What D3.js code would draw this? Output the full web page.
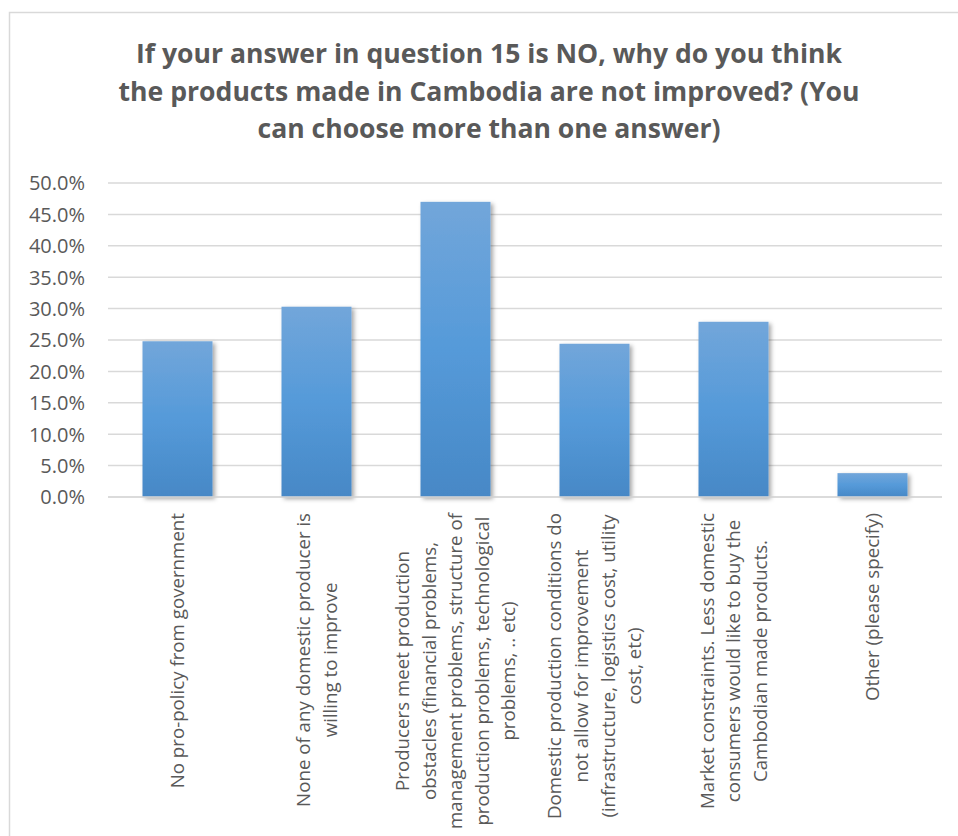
<!DOCTYPE html>
<html>
<head>
<meta charset="utf-8">
<script src="https://cdn.jsdelivr.net/npm/d3@7"></script>
<style>
  html, body { margin: 0; padding: 0; background: #fff; }
  svg { display: block; }
</style>
</head>
<body>
<svg id="chart" width="958" height="836"></svg>
<script>
// ---- data ----
const titleLines = [
  "If your answer in question 15 is NO, why do you think",
  "the products made in Cambodia are not improved? (You",
  "can choose more than one answer)"
];
const categories = [
  "No pro-policy from government",
  "None of any domestic producer is willing to improve",
  "Producers meet production obstacles (financial problems, management problems, structure of production problems, technological problems, .. etc)",
  "Domestic production conditions do not allow for improvement (infrastructure, logistics cost, utility cost, etc)",
  "Market constraints. Less domestic consumers would like to buy the Cambodian made products.",
  "Other (please specify)"
];
const categoryLines = [
  ["No pro-policy from government"],
  ["None of any domestic producer is", "willing to improve"],
  ["Producers meet production", "obstacles (financial problems,", "management problems, structure of", "production problems, technological", "problems, .. etc)"],
  ["Domestic production conditions do", "not allow for improvement", "(infrastructure, logistics cost, utility", "cost, etc)"],
  ["Market constraints. Less domestic", "consumers would like to buy the", "Cambodian made products."],
  ["Other (please specify)"]
];
const values = [0.248, 0.303, 0.470, 0.244, 0.279, 0.038];
const yTicks = [0, 0.05, 0.10, 0.15, 0.20, 0.25, 0.30, 0.35, 0.40, 0.45, 0.50];

// ---- layout ----
const svg = d3.select("#chart");
const plot = { left: 108, right: 942, top: 183, bottom: 497 };
const textColor = "#595959";
const gridColor = "#d9d9d9";

const defs = svg.append("defs");
const grad = defs.append("linearGradient")
  .attr("id", "barGrad").attr("x1", 0).attr("y1", 0).attr("x2", 0).attr("y2", 1);
grad.append("stop").attr("offset", "0%").attr("stop-color", "#72a6da");
grad.append("stop").attr("offset", "50%").attr("stop-color", "#559ad9");
grad.append("stop").attr("offset", "100%").attr("stop-color", "#4788c6");
const filt = defs.append("filter").attr("id", "shadow")
  .attr("x", "-20%").attr("y", "-20%").attr("width", "150%").attr("height", "150%");
filt.append("feDropShadow").attr("dx", 2.5).attr("dy", 2).attr("stdDeviation", 2)
  .attr("flood-color", "#000").attr("flood-opacity", 0.35);

// outer frame
svg.append("rect").attr("x", 9.5).attr("y", 12.5).attr("width", 960).attr("height", 840)
  .attr("fill", "#fff").attr("stroke", gridColor).attr("stroke-width", 1.5);

// title
const titleY = [63, 100.5, 138];
const titleWidths = [706, 741, 463];
svg.append("g").selectAll("text").data(titleLines).join("text")
  .attr("x", 489).attr("y", (d, i) => titleY[i])
  .attr("text-anchor", "middle")
  .attr("font-family", "'Open Sans', sans-serif")
  .attr("font-weight", "bold").attr("font-size", 27)
  .attr("fill", textColor)
  .attr("textLength", (d, i) => titleWidths[i])
  .attr("lengthAdjust", "spacingAndGlyphs")
  .text(d => d);

// scales
const x = d3.scaleBand().domain(categories).range([plot.left, plot.right])
  .paddingInner(0.4964).paddingOuter(0.2482);
const y = d3.scaleLinear().domain([0, 0.5]).range([plot.bottom, plot.top]);

// gridlines
svg.append("g").selectAll("line").data(yTicks).join("line")
  .attr("x1", plot.left).attr("x2", plot.right)
  .attr("y1", d => y(d)).attr("y2", d => y(d))
  .attr("stroke", gridColor).attr("stroke-width", 1.5);

// y axis
const yAxis = d3.axisLeft(y).tickValues(yTicks).tickFormat(d3.format(".1%")).tickSize(0).tickPadding(0);
const yg = svg.append("g").attr("transform", `translate(85,0)`).call(yAxis);
yg.select(".domain").remove();
yg.selectAll("text")
  .attr("font-family", "'Open Sans', sans-serif").attr("font-size", 20)
  .attr("fill", textColor).attr("dy", "0.34em");

// bars
svg.append("g").selectAll("rect").data(values).join("rect")
  .attr("x", (d, i) => x(categories[i]))
  .attr("y", d => y(d))
  .attr("width", x.bandwidth())
  .attr("height", d => y(0) - y(d))
  .attr("fill", "url(#barGrad)")
  .attr("filter", "url(#shadow)");

// baseline
svg.append("line").attr("x1", plot.left).attr("x2", plot.right)
  .attr("y1", y(0)).attr("y2", y(0)).attr("stroke", gridColor).attr("stroke-width", 1.5);

// category labels (rotated, centered lines, block aligned to top)
const fs = 18.7, lineH = 26.6, labelTop = 513;
categories.forEach((c, i) => {
  const cx = x(c) + x.bandwidth() / 2;
  const lines = categoryLines[i];
  const g = svg.append("g").attr("transform", `translate(${cx},${labelTop}) rotate(-90)`);
  const texts = g.selectAll("text").data(lines).join("text")
    .attr("font-family", "'Open Sans', sans-serif").attr("font-size", fs)
    .attr("fill", textColor).attr("text-anchor", "middle")
    .text(d => d);
  let maxLen = 0;
  texts.each(function () { maxLen = Math.max(maxLen, this.getComputedTextLength()); });
  const n = lines.length;
  texts.attr("x", -maxLen / 2)
    .attr("y", (d, j) => (j - (n - 1) / 2) * lineH + fs * 0.36);
});
</script>
</body>
</html>
